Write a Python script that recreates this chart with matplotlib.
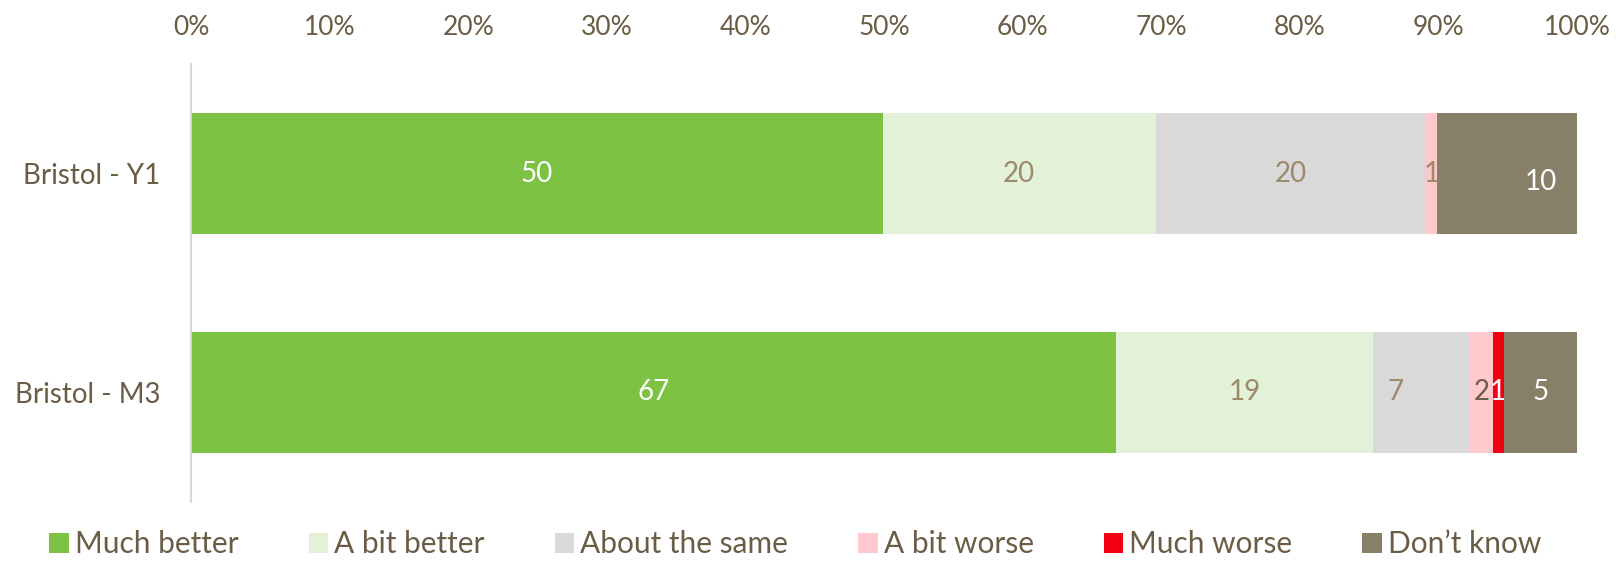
import numpy as np
import matplotlib
matplotlib.use("Agg")
import matplotlib.pyplot as plt

plt.rcParams["font.family"] = ["Lato", "DejaVu Sans"]

# survey responses, percent of respondents per group
groups = ["Bristol - Y1", "Bristol - M3"]
responses = ["Much better", "A bit better", "About the same",
             "A bit worse", "Much worse", "Don\u2019t know"]
much_better = [49.9, 66.7]
bit_better = [19.7, 18.6]
same = [19.5, 7.0]
bit_worse = [0.8, 1.6]
much_worse = [0.0, 0.8]
dont_know = [10.1, 5.3]

colors = ["#7DC243", "#E4F1D9", "#D9D9D9", "#FFC8CC", "#F20012", "#887F69"]
label_colors = ["white", "#9C8A6A", "#9C8A6A", "#9C8A6A", "white", "white"]
text_brown = "#6B5D45"

# nudges for a couple of data labels (x in %, y in bar units)
label_nudge = {("Don\u2019t know", 0): (2.4, 0.04),
               ("About the same", 1): (-1.9, 0.0)}

series = [much_better, bit_better, same, bit_worse, much_worse, dont_know]

fig = plt.figure(figsize=(16.16, 5.61), dpi=100)
ax = fig.add_axes([0.1182, 0.1052, 0.8577, 0.7807])

ypos = np.arange(len(groups))
left = np.zeros(len(groups))
for vals, name, col, lcol in zip(series, responses, colors, label_colors):
    vals = np.array(vals)
    ax.barh(ypos, vals, left=left, height=0.557, color=col, label=name,
            edgecolor="none")
    for i, v in enumerate(vals):
        if v <= 0:
            continue
        c = lcol
        if name == "A bit worse" and i == 1:
            c = text_brown
        dx, dy = label_nudge.get((name, i), (0, 0))
        ax.text(left[i] + v / 2 + dx, ypos[i] + dy, f"{v:.0f}", ha="center",
                va="center", fontsize=20, color=c)
    left += vals

ax.set_xlim(0, 100)
ax.set_ylim(1.5, -0.5)
ax.xaxis.tick_top()
ax.set_xticks(np.arange(0, 101, 10))
ax.set_xticklabels([f"{t}%" for t in range(0, 101, 10)])
ax.set_yticks(ypos)
ax.set_yticklabels(groups)
ax.tick_params(axis="x", length=0, pad=17, labelsize=19, labelcolor=text_brown)
ax.tick_params(axis="y", length=0, pad=22, labelsize=20, labelcolor=text_brown)

for side in ["top", "right", "bottom"]:
    ax.spines[side].set_visible(False)
ax.spines["left"].set_color("#D9D9D9")
ax.spines["left"].set_linewidth(1.5)

handles, labels = ax.get_legend_handles_labels()
leg = fig.legend(handles, labels, loc="lower left", ncol=6,
                 bbox_to_anchor=(0.014, -0.043), frameon=False, fontsize=21.5,
                 handlelength=0.65, handleheight=0.65, handletextpad=0.2,
                 columnspacing=2.35)
for t in leg.get_texts():
    t.set_color(text_brown)

fig.savefig("out.png", dpi=100)
